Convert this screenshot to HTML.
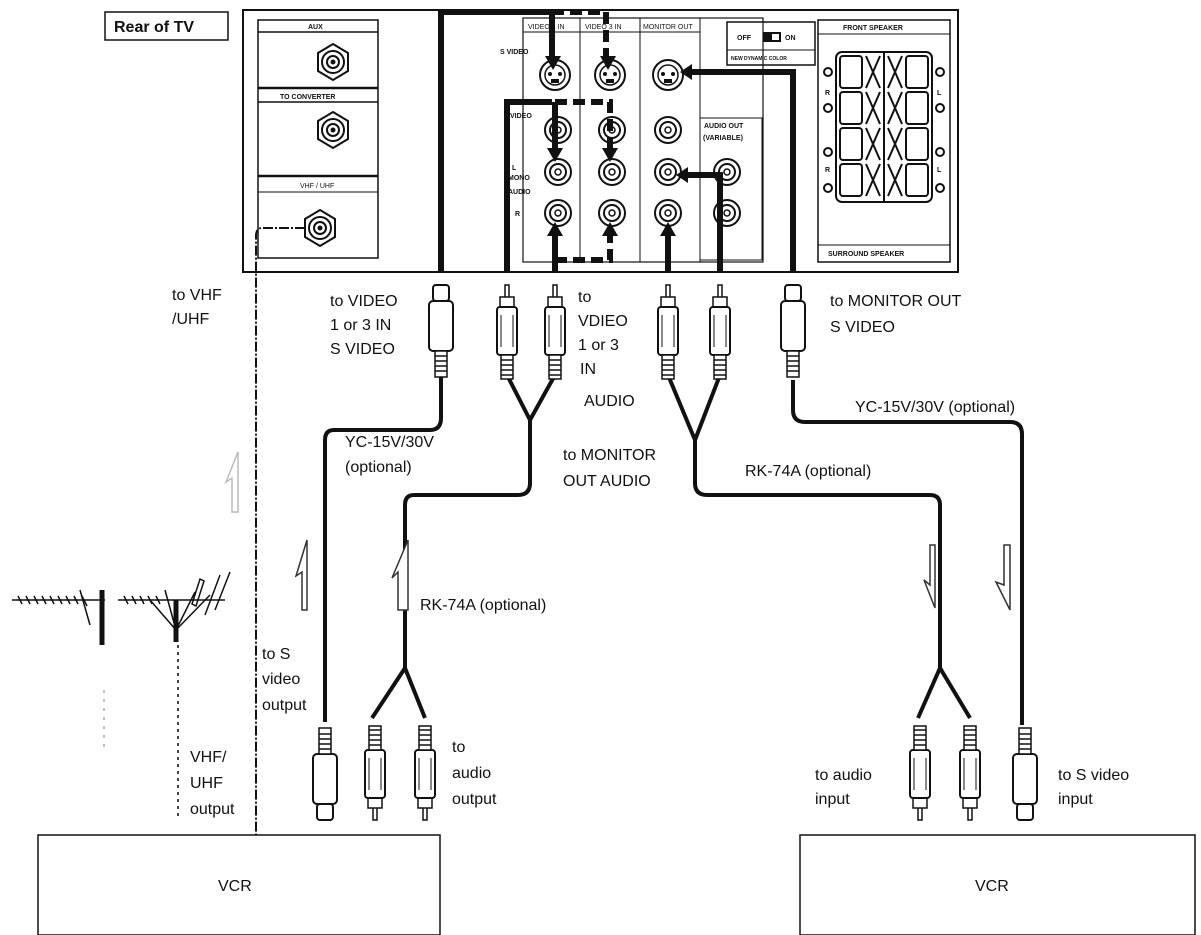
<!DOCTYPE html>
<html><head><meta charset="utf-8"><style>
body{margin:0;background:#fff}
svg{display:block}
text{font-family:"Liberation Sans",sans-serif;font-size:16px;fill:#111}
.s{font-size:7px;font-weight:bold}
</style></head><body>
<svg width="1201" height="935" viewBox="0 0 1201 935" xmlns="http://www.w3.org/2000/svg">
<defs>
<g id="rca">
<rect x="-2" y="0" width="4" height="13" fill="#fff" stroke="#111" stroke-width="1.5"/>
<rect x="-7" y="12" width="14" height="10" fill="#fff" stroke="#111" stroke-width="1.5"/>
<rect x="-10" y="22" width="20" height="48" rx="3" fill="#fff" stroke="#111" stroke-width="2"/>
<line x1="-6" y1="30" x2="-6" y2="62" stroke="#111"/><line x1="6" y1="30" x2="6" y2="62" stroke="#111"/>
<rect x="-6" y="70" width="12" height="24" fill="#fff" stroke="#111" stroke-width="1.5"/>
<path d="M-6 75H6M-6 80H6M-6 85H6M-6 90H6" stroke="#111" stroke-width="1.5"/>
</g>
<g id="sv">
<rect x="-8" y="0" width="16" height="16" rx="3" fill="#fff" stroke="#111" stroke-width="2"/>
<rect x="-12" y="16" width="24" height="50" rx="4" fill="#fff" stroke="#111" stroke-width="2"/>
<rect x="-6" y="66" width="12" height="26" fill="#fff" stroke="#111" stroke-width="1.5"/>
<path d="M-6 71H6M-6 76H6M-6 81H6M-6 86H6" stroke="#111" stroke-width="1.5"/>
</g>
<g id="jack"><circle r="13" fill="#fff" stroke="#111" stroke-width="2"/><circle r="8" fill="none" stroke="#111" stroke-width="2"/><circle r="3" fill="none" stroke="#111" stroke-width="1.5"/></g>
<g id="sj"><circle r="15" fill="#fff" stroke="#111" stroke-width="2"/><circle r="10" fill="none" stroke="#111" stroke-width="1.5"/><rect x="-4" y="4" width="8" height="4" fill="#111"/><circle cx="-5" cy="-1" r="2" fill="#111"/><circle cx="5" cy="-1" r="2" fill="#111"/></g>
<g id="coax"><polygon points="0,-18 15,-9 15,9 0,18 -15,9 -15,-9" fill="#fff" stroke="#111" stroke-width="2"/><circle r="11" fill="none" stroke="#111" stroke-width="2"/><circle r="6" fill="none" stroke="#111" stroke-width="2"/><circle r="2.5" fill="#111"/></g>
</defs>

<rect x="105" y="12" width="123" height="28" fill="#fff" stroke="#111" stroke-width="1.5"/>
<text x="114" y="32" style="font-weight:bold;font-size:16px">Rear of TV</text>

<rect x="243" y="10" width="715" height="262" fill="#fff" stroke="#111" stroke-width="2"/>
<rect x="258" y="20" width="120" height="238" fill="none" stroke="#111" stroke-width="1.5"/>
<line x1="258" y1="32" x2="378" y2="32" stroke="#111" stroke-width="1.5"/>
<text class="s" x="308" y="29">AUX</text>
<use href="#coax" x="333" y="62"/>
<line x1="258" y1="88" x2="378" y2="88" stroke="#111" stroke-width="2.5"/>
<line x1="258" y1="102" x2="378" y2="102" stroke="#111" stroke-width="1.5"/>
<text class="s" x="280" y="99">TO CONVERTER</text>
<use href="#coax" x="333" y="130"/>
<line x1="258" y1="176" x2="378" y2="176" stroke="#111" stroke-width="2.5"/>
<line x1="258" y1="192" x2="378" y2="192" stroke="#111" stroke-width="1"/>
<text class="s" x="300" y="188" style="font-weight:normal">VHF / UHF</text>
<use href="#coax" x="320" y="228"/>

<rect x="523" y="18" width="240" height="244" fill="none" stroke="#111" stroke-width="1.2"/>
<line x1="523" y1="32" x2="700" y2="32" stroke="#111"/>
<line x1="580" y1="18" x2="580" y2="262" stroke="#111"/>
<line x1="640" y1="18" x2="640" y2="262" stroke="#111"/>
<line x1="700" y1="18" x2="700" y2="262" stroke="#111"/>
<text class="s" x="528" y="29" style="font-weight:normal">VIDEO 1 IN</text>
<text class="s" x="585" y="29" style="font-weight:normal">VIDEO 3 IN</text>
<text class="s" x="643" y="29" style="font-weight:normal">MONITOR OUT</text>
<text class="s" x="500" y="54">S VIDEO</text>
<text class="s" x="510" y="118">VIDEO</text>
<text class="s" x="512" y="170">L</text>
<text class="s" x="508" y="180">MONO</text>
<text class="s" x="508" y="194">AUDIO</text>
<text class="s" x="515" y="216">R</text>
<rect x="700" y="118" width="62" height="142" fill="none" stroke="#111"/>
<text class="s" x="704" y="128">AUDIO OUT</text>
<text class="s" x="703" y="140">(VARIABLE)</text>
<use href="#sj" x="555" y="75"/><use href="#sj" x="610" y="75"/><use href="#sj" x="668" y="75"/>
<use href="#jack" x="558" y="130"/><use href="#jack" x="612" y="130"/><use href="#jack" x="668" y="130"/>
<use href="#jack" x="558" y="172"/><use href="#jack" x="612" y="172"/><use href="#jack" x="668" y="172"/><use href="#jack" x="727" y="172"/>
<use href="#jack" x="558" y="213"/><use href="#jack" x="612" y="213"/><use href="#jack" x="668" y="213"/><use href="#jack" x="727" y="213"/>

<rect x="727" y="22" width="88" height="43" fill="none" stroke="#111" stroke-width="1.5"/>
<line x1="727" y1="50" x2="815" y2="50" stroke="#111"/>
<text class="s" x="737" y="40">OFF</text><rect x="763" y="32" width="18" height="10" fill="#111"/><rect x="772" y="34" width="7" height="6" fill="#fff"/><text class="s" x="785" y="40">ON</text>
<text class="s" x="731" y="60" style="font-size:5px">NEW DYNAMIC COLOR</text>
<rect x="818" y="20" width="132" height="242" fill="none" stroke="#111" stroke-width="1.5"/>
<line x1="818" y1="34" x2="950" y2="34" stroke="#111"/>
<line x1="818" y1="245" x2="950" y2="245" stroke="#111"/>
<text class="s" x="843" y="30">FRONT SPEAKER</text>
<text class="s" x="828" y="256">SURROUND SPEAKER</text>
<rect x="836" y="52" width="96" height="150" rx="6" fill="none" stroke="#111" stroke-width="2"/>
<g fill="none" stroke="#111" stroke-width="2">
<rect x="840" y="56" width="22" height="32" rx="3"/><rect x="840" y="92" width="22" height="32" rx="3"/><rect x="840" y="128" width="22" height="32" rx="3"/><rect x="840" y="164" width="22" height="32" rx="3"/>
<rect x="906" y="56" width="22" height="32" rx="3"/><rect x="906" y="92" width="22" height="32" rx="3"/><rect x="906" y="128" width="22" height="32" rx="3"/><rect x="906" y="164" width="22" height="32" rx="3"/>
<path d="M866 56L880 88M880 56L866 88M866 92L880 124M880 92L866 124M866 128L880 160M880 128L866 160M866 164L880 196M880 164L866 196"/>
<path d="M888 56L902 88M902 56L888 88M888 92L902 124M902 92L888 124M888 128L902 160M902 128L888 160M888 164L902 196M902 164L888 196"/>
<line x1="884" y1="52" x2="884" y2="202"/>
<circle cx="828" cy="72" r="4"/><circle cx="828" cy="108" r="4"/><circle cx="828" cy="152" r="4"/><circle cx="828" cy="188" r="4"/>
<circle cx="940" cy="72" r="4"/><circle cx="940" cy="108" r="4"/><circle cx="940" cy="152" r="4"/><circle cx="940" cy="188" r="4"/>
</g>
<text class="s" x="825" y="95">R</text><text class="s" x="937" y="95">L</text>
<text class="s" x="825" y="172">R</text><text class="s" x="937" y="172">L</text>

<g fill="none" stroke="#111" stroke-width="6">
<path d="M441 272V12H552"/>
<path d="M552 12V58"/>
<path d="M507 272V102H552"/>
<path d="M555 102V150"/>
<path d="M555 272V232"/>
<path d="M668 272V232"/>
<path d="M720 272V175H686"/>
<path d="M793 272V72H690"/>
</g>
<g fill="none" stroke="#111" stroke-width="6" stroke-dasharray="12,6">
<path d="M552 12H606V58"/>
<path d="M555 102H610V150"/>
<path d="M555 260H610V232"/>
</g>
<g fill="#111">
<polygon points="545,56 561,56 553,70"/><polygon points="600,56 616,56 608,70"/>
<polygon points="547,148 563,148 555,162"/><polygon points="602,148 618,148 610,162"/>
<polygon points="547,236 563,236 555,222"/><polygon points="602,236 618,236 610,222"/>
<polygon points="660,236 676,236 668,222"/>
<polygon points="688,167 688,183 676,175"/><polygon points="692,64 692,80 680,72"/>
</g>

<path d="M305 228H262Q256 228 256 236V835" fill="none" stroke="#111" stroke-width="2" stroke-dasharray="10,2,2,2"/>

<g fill="none" stroke="#111" stroke-width="4" stroke-linejoin="round">
<path d="M441 375V418Q441 430 430 430H334Q325 430 325 440V722"/>
<path d="M507 375L530 420L555 375"/>
<path d="M530 420V483Q530 495 518 495H414Q405 495 405 505V668"/>
<path d="M405 668L372 718M405 668L425 718"/>
<path d="M668 375L695 440L720 375"/>
<path d="M695 440V483Q695 495 707 495H930Q940 495 940 505V668"/>
<path d="M940 668L918 718M940 668L970 718"/>
<path d="M793 380V410Q793 422 805 422H1010Q1022 422 1022 434V725"/>
</g>

<use href="#sv" x="441" y="285"/>
<use href="#rca" x="507" y="285"/>
<use href="#rca" x="555" y="285"/>
<use href="#rca" x="668" y="285"/>
<use href="#rca" x="720" y="285"/>
<use href="#sv" x="793" y="285"/>
<use href="#sv" transform="translate(325,820) rotate(180)"/>
<use href="#rca" transform="translate(375,820) rotate(180)"/>
<use href="#rca" transform="translate(425,820) rotate(180)"/>
<use href="#rca" transform="translate(920,820) rotate(180)"/>
<use href="#rca" transform="translate(970,820) rotate(180)"/>
<use href="#sv" transform="translate(1025,820) rotate(180)"/>

<g fill="#fff" stroke="#333" stroke-width="1.5">
<path d="M302 610V572L296 576L307 540V610Z"/>
<path d="M398 610V572L392 578L408 540V610Z"/>
<path d="M930 545V585L924 580L935 608V545Z" />
<path d="M1004 545V585L996 582L1010 610V545Z"/>
</g>
<path d="M232 512V478L226 482L238 452V512Z" fill="#fff" stroke="#bbb" stroke-width="1.5"/>

<g stroke="#111" stroke-width="1.5" fill="none">
<line x1="12" y1="600" x2="105" y2="600"/>
<path d="M18 596l4 8M26 596l4 8M34 596l4 8M42 596l4 8M50 596l4 8M58 596l4 8M66 596l4 8M74 596l4 8M82 596l5 10"/>
<path d="M80 590l10 35"/>
<line x1="102" y1="590" x2="102" y2="645" stroke-width="5"/>
<line x1="118" y1="600" x2="225" y2="600"/>
<path d="M124 596l4 8M132 596l4 8M140 596l4 8M148 596l4 8M156 596l4 8"/>
<path d="M176 630L150 600M176 630L165 590M176 630L195 592M176 630L210 595M192 604l8 -25l4 2l-8 25z M205 615l15 -40M215 610l15 -38"/>
<line x1="176" y1="600" x2="176" y2="642" stroke-width="5"/>
</g>
<line x1="178" y1="645" x2="178" y2="820" stroke="#444" stroke-width="2" stroke-dasharray="3,4"/>
<line x1="104" y1="690" x2="104" y2="750" stroke="#aaa" stroke-width="1.5" stroke-dasharray="3,6"/>

<text x="172" y="300">to VHF</text><text x="172" y="324">/UHF</text>
<text x="330" y="306">to VIDEO</text><text x="330" y="330">1 or 3 IN</text><text x="330" y="354">S VIDEO</text>
<text x="578" y="302">to</text><text x="578" y="326">VDIEO</text><text x="578" y="350">1 or 3</text><text x="580" y="374">IN</text><text x="584" y="406">AUDIO</text>
<text x="830" y="306">to MONITOR OUT</text><text x="830" y="332">S VIDEO</text>
<text x="855" y="412">YC-15V/30V (optional)</text>
<text x="345" y="447">YC-15V/30V</text><text x="345" y="472">(optional)</text>
<text x="563" y="460">to MONITOR</text><text x="563" y="486">OUT AUDIO</text>
<text x="745" y="476">RK-74A (optional)</text>
<text x="420" y="610">RK-74A (optional)</text>
<text x="262" y="659">to S</text><text x="262" y="684">video</text><text x="262" y="710">output</text>
<text x="190" y="762">VHF/</text><text x="190" y="788">UHF</text><text x="190" y="814">output</text>
<text x="452" y="752">to</text><text x="452" y="778">audio</text><text x="452" y="804">output</text>
<text x="815" y="780">to audio</text><text x="815" y="804">input</text>
<text x="1058" y="780">to S video</text><text x="1058" y="804">input</text>

<rect x="38" y="835" width="402" height="100" fill="#fff" stroke="#111" stroke-width="1.5"/>
<text x="218" y="891">VCR</text>
<rect x="800" y="835" width="395" height="100" fill="#fff" stroke="#111" stroke-width="1.5"/>
<text x="975" y="891">VCR</text>
</svg>
</body></html>
